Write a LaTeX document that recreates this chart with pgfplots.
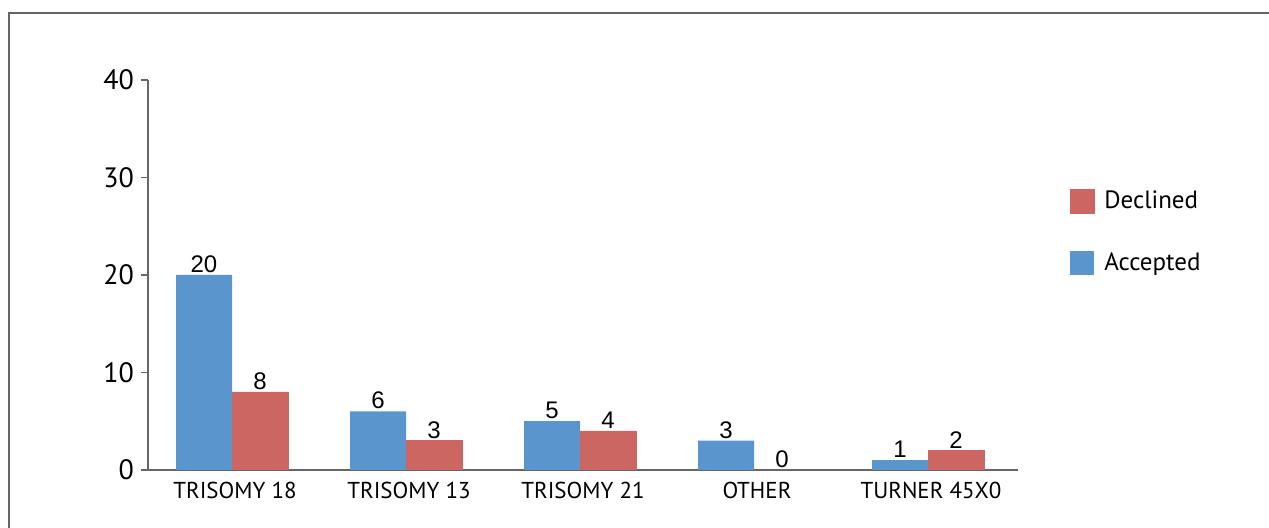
\documentclass[border=0pt]{standalone}
\usepackage{pgfplots}
\pgfplotsset{compat=1.18}
\usepackage{fontspec}
\setmainfont{PT Sans}
\newfontfamily\arialf{Liberation Sans}
\definecolor{accblue}{RGB}{90,150,205}
\definecolor{decred}{RGB}{203,102,98}
\definecolor{framegray}{RGB}{100,100,100}
\begin{document}
\begin{tikzpicture}
\useasboundingbox (0pt,0pt) rectangle (634.5pt,264pt);
\begin{scope}
\clip (0pt,0pt) rectangle (634.5pt,264pt);
\draw[framegray,line width=1pt] (4.5pt,-10pt) -- (4.5pt,257.5pt) -- (650pt,257.5pt);
\end{scope}
\begin{axis}[
  at={(74pt,29pt)}, anchor=south west,
  scale only axis, width=435pt, height=195pt,
  xmin=-0.5, xmax=4.5, ymin=0, ymax=40,
  axis lines*=left,
  axis line style={draw=gray!80!black, line width=0.8pt},
  ybar, bar width=28pt,
  xtick={0,1,2,3,4},
  xticklabels={TRISOMY 18,TRISOMY 13,TRISOMY 21,OTHER,TURNER 45X0},
  extra x ticks={-0.5,0.5,1.5,2.5,3.5,4.5},
  extra x tick labels={},
  extra x tick style={major tick length=4pt, tick style={draw=gray!80!black, line width=0.8pt}},
  major x tick style={draw=none},
  ytick={0,10,20,30,40},
  tick align=outside,
  major tick length=3.5pt,
  y tick style={draw=gray!80!black, line width=0.8pt},
  tick label style={font=\fontsize{14}{16}\selectfont},
  xticklabel style={font=\fontsize{11.5}{13}\selectfont, yshift=1pt},
  /pgf/number format/assume math mode=true,
  nodes near coords,
  every node near coord/.append style={font=\arialf\fontsize{12}{14}\selectfont, inner sep=1pt},
  legend style={at={(1.052,0.738)}, anchor=north west, draw=none, fill=none,
    font=\fontsize{12.5}{14}\selectfont, row sep=16.5pt,
    /tikz/every odd column/.append style={column sep=3pt}},
  legend cell align=left,
  reverse legend,
  legend image code/.code={\fill[#1] (0pt,-6pt) rectangle (12pt,6pt);},
]
\addplot[fill=accblue, draw=none, bar shift=-15.5pt] coordinates {(0,20) (1,6) (2,5) (3,3) (4,1)};
\addlegendentry{Accepted}
\addplot[fill=decred, draw=decred, line width=0.3pt, bar shift=12.5pt] coordinates {(0,8) (1,3) (2,4) (3,0) (4,2)};
\addlegendentry{Declined}
\end{axis}
\end{tikzpicture}
\end{document}
